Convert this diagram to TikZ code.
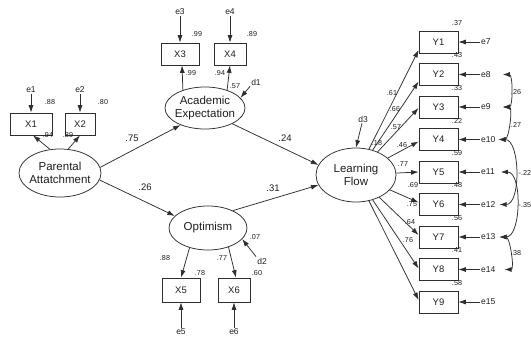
\documentclass[tikz,border=0pt]{standalone}
\usepackage{fontspec}
\setmainfont{Liberation Sans}
\usetikzlibrary{shapes.geometric,arrows.meta}
\definecolor{ln}{gray}{0.18}
\definecolor{tx}{gray}{0.12}
\begin{document}
\begin{tikzpicture}[x=1pt,y=-1pt,
  latent/.style={ellipse,draw=ln,line width=0.75pt,inner sep=0pt,align=center,font=\fontsize{11.5}{13.5}\selectfont,text=tx},
  obs/.style={rectangle,draw=ln,line width=0.75pt,minimum height=22pt,inner sep=0pt,font=\fontsize{9.5}{11}\selectfont,text=tx},
  err/.style={inner sep=1pt,font=\fontsize{8.5}{10}\selectfont,text=tx},
  coef/.style={inner sep=0pt,font=\fontsize{9.5}{11}\selectfont,text=tx},
  small/.style={inner sep=0pt,font=\fontsize{7.2}{8}\selectfont,text=tx},
  arr/.style={-{Latex[length=7.5pt,width=5pt]},draw=ln,line width=0.75pt},
  cov/.style={{Latex[length=7pt,width=5pt]}-{Latex[length=7pt,width=5pt]},draw=ln,line width=0.75pt},
]
\useasboundingbox[fill=white] (0,0) rectangle (531,339);

% latent variables
\node[latent,inner xsep=-2pt,minimum width=82pt,minimum height=48pt] (PA) at (60,173) {Parental\\Attatchment};
\node[latent,inner xsep=-2pt,minimum width=80pt,minimum height=42pt] (AE) at (205,108) {Academic\\Expectation};
\node[latent,minimum width=78pt,minimum height=44pt] (OP) at (208,228) {Optimism};
\node[latent,minimum width=80pt,minimum height=54pt] (LF) at (356,175) {Learning\\Flow};

% observed X
\node[obs,minimum width=42pt] (X1) at (31,124) {X1};
\node[obs,minimum width=30pt] (X2) at (80,124) {X2};
\node[obs,minimum width=38pt] (X3) at (180,54) {X3};
\node[obs,minimum width=32pt] (X4) at (230,54) {X4};
\node[obs,minimum width=38pt,minimum height=24pt] (X5) at (181,290) {X5};
\node[obs,minimum width=32pt,minimum height=24pt] (X6) at (234,290) {X6};

% errors for X
\node[err] (e1) at (31,90) {e1};
\node[err] (e2) at (80,90) {e2};
\node[err] (e3) at (180,12) {e3};
\node[err] (e4) at (230,12) {e4};
\node[err] (e5) at (181,332) {e5};
\node[err] (e6) at (234,332) {e6};
\node[err] (d1) at (256,82) {d1};
\node[err] (d2) at (262,261) {d2};
\node[err] (d3) at (363,119) {d3};

\draw[arr] (e1) -- (X1);
\draw[arr] (e2) -- (X2);
\draw[arr] (e3) -- (X3);
\draw[arr] (e4) -- (X4);
\draw[arr] (e5) -- (X5);
\draw[arr] (e6) -- (X6);
\draw[arr] (d1.south west) -- (AE.16);
\draw[arr] (d2.north west) -- (OP.342);
\draw[arr] (d3) -- (LF.90);

% measurement paths
\draw[arr] (PA.113) -- ([xshift=2pt]X1.south);
\draw[arr] (PA.71) -- (X2.south);
\draw[arr] (AE.141) -- ([xshift=2pt]X3.south);
\draw[arr] (AE.39) -- (X4.south);
\draw[arr] (OP.227) -- (X5.north);
\draw[arr] (OP.317) -- ([xshift=2pt]X6.north);

% structural paths
\draw[arr] (PA.8) -- (AE.215);
\draw[arr] (PA.-10) -- (OP.160);
\draw[arr] (AE.-30) -- (LF.165);
\draw[arr] (OP.35) -- (LF.195);

% Y indicators
\foreach \i in {1,...,9}{
  \node[obs,minimum width=39pt] (Y\i) at (438.5,{42+32.5*(\i-1)}) {Y\i};
  \pgfmathtruncatemacro{\k}{\i+6}
  \node[err,anchor=west] (e\k) at (480,{42+32.5*(\i-1)}) {e\k};
  \draw[arr] (e\k) -- (Y\i);
}
\draw[arr] (LF) -- ([yshift=-8pt]Y1.west);
\draw[arr] (LF) -- ([yshift=-7pt]Y2.west);
\draw[arr] (LF) -- ([yshift=-1pt]Y3.west);
\draw[arr] (LF) -- ([yshift=-2pt]Y4.west);
\draw[arr] (LF) -- (Y5.west);
\draw[arr] (LF) -- ([yshift=2pt]Y6.west);
\draw[arr] (LF) -- ([yshift=2pt]Y7.west);
\draw[arr] (LF) -- ([yshift=1pt]Y8.west);
\draw[arr] (LF) -- ([yshift=2pt]Y9.west);

% covariances
\draw[cov] ([xshift=11pt]e8.east) to[out=0,in=0,looseness=0.8] ([xshift=11pt]e9.east);
\draw[cov] ([xshift=11pt]e9.east) to[out=0,in=0,looseness=0.8] ([xshift=2pt]e10.east);
\draw[cov] ([xshift=2pt]e10.east) to[out=0,in=0,looseness=0.85] ([xshift=3pt]e12.east);
\draw[cov] ([xshift=5pt]e11.east) to[out=0,in=0,looseness=0.85] ([xshift=3pt]e13.east);
\draw[cov] ([xshift=3pt]e13.east) to[out=0,in=0,looseness=0.8] ([xshift=8pt]e14.east);

\node[small] (c1) at (516,92) {.26};
\node[small] (c2) at (516,125) {.27};
\node[small,anchor=west] (c3) at (518.5,173) {-.22};
\node[small,anchor=west] (c4) at (518.5,205) {-.35};
\node[small] (c5) at (516,253) {.38};

% path coefficients
\node[coef] (p1) at (132,138) {.75};
\node[coef] (p2) at (145,187) {.26};
\node[coef] (p3) at (285,138) {.24};
\node[coef] (p4) at (273,188) {.31};

% small estimates X
\node[small] (r1) at (50,102) {.88};
\node[small] (r2) at (103,102) {.80};
\node[small] (l1) at (48,135) {.94};
\node[small] (l2) at (68,135) {.89};
\node[small] (r3) at (197,34) {.99};
\node[small] (r4) at (252,34) {.89};
\node[small] (l3) at (191,73) {.99};
\node[small] (l4) at (220,73) {.94};
\node[small] (r5) at (200,273) {.78};
\node[small] (r6) at (257,273) {.60};
\node[small] (l5) at (165,258) {.88};
\node[small] (l6) at (222,258) {.77};
\node[small] (rAE) at (235,86) {.57};
\node[small] (rOP) at (255,237) {.07};
\node[small] (rLF) at (377,143) {.18};

% R2 of Y
\foreach \i/\r in {1/.37,2/.43,3/.33,4/.22,5/.59,6/.48,7/.56,8/.41,9/.58}{
  \node[small] (rY\i) at (457,{23+32.5*(\i-1)}) {\r};
}
% loadings of Y
\node[small] (lY1) at (392,93) {.61};
\node[small] (lY2) at (395,109) {.66};
\node[small] (lY3) at (396,127) {.57};
\node[small] (lY4) at (402,145) {.46};
\node[small] (lY5) at (403,164) {.77};
\node[small] (lY6) at (413,185) {.69};
\node[small] (lY7) at (412,204) {.75};
\node[small] (lY8) at (410,222) {.64};
\node[small] (lY9) at (408,240) {.76};
\end{tikzpicture}
\end{document}
